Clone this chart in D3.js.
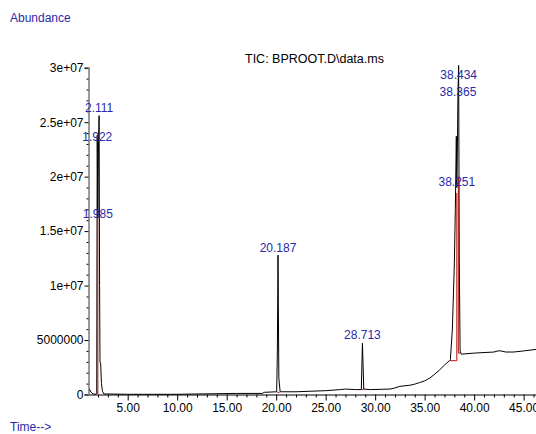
<!DOCTYPE html>
<html>
<head>
<meta charset="utf-8">
<script src="https://cdn.jsdelivr.net/npm/d3@7"></script>
<style>
  html, body { margin: 0; padding: 0; background: #fff; }
  svg { display: block; font-family: Arial, "Liberation Sans", sans-serif; }
</style>
</head>
<body>
<svg id="chart" width="536" height="434"></svg>
<script>
// ---- data ----
const traceTime = [1.09, 1.15, 1.3, 1.5, 1.8, 1.87, 1.9, 1.922, 1.95, 1.985, 2.05, 2.111, 2.16, 2.2, 2.27, 2.35, 2.45, 2.6,
  5, 10, 16, 18.6, 18.8, 20.05, 20.12, 20.187, 20.27, 20.4, 22, 23.5, 25, 26.5, 27, 28, 28.6, 28.713, 28.85, 29.5,
  31.5, 32, 32.5, 33.5, 34, 34.5, 35, 35.5, 36, 36.5, 37, 37.5, 37.6, 37.8, 38.0, 38.1, 38.2, 38.25, 38.3, 38.365, 38.434,
  38.5, 38.58, 38.7, 40, 41, 42, 42.5, 42.8, 43.2, 44, 45, 46.35];
const traceAbund = [0.45e6, 0.45e6, 0.2e6, 0.05e6, 0.02e6, 0.1e6, 1.5e7, 2.38e7, 2.0e7, 1.62e7, 2.3e7, 2.56e7, 1.0e7, 3.0e6, 2.8e6, 1.0e6, 0.3e6, 0.05e6,
  0.02e6, 0.02e6, 0.1e6, 0.1e6, 0.2e6, 0.25e6, 4.0e6, 1.28e7, 1.5e6, 0.25e6, 0.25e6, 0.3e6, 0.35e6, 0.45e6, 0.5e6, 0.45e6, 0.45e6, 4.7e6, 0.5e6, 0.45e6,
  0.5e6, 0.6e6, 0.75e6, 0.85e6, 0.95e6, 1.1e6, 1.25e6, 1.5e6, 1.85e6, 2.25e6, 2.7e6, 3.1e6, 3.2e6, 6.0e6, 1.2e7, 1.7e7, 2.37e7, 1.9e7, 2.2e7, 2.77e7, 3.02e7,
  1.2e7, 4.0e6, 3.7e6, 3.8e6, 3.85e6, 3.9e6, 4.02e6, 3.98e6, 3.9e6, 3.9e6, 4.0e6, 4.15e6];

// integration markers (red): each is a polyline of [time, abundance]
const integTimes = [[1.85, 1.985, 1.985], [20.1, 20.35], [28.6, 28.85], [37.5, 38.25, 38.25], [38.6, 38.4, 38.4]];
const integAbund = [[0.1e6, 0.1e6, 1.62e7], [0.2e6, 0.2e6], [0.45e6, 0.45e6], [3.1e6, 3.1e6, 1.85e7], [3.8e6, 3.8e6, 2.0e7]];

// peak labels
const peakLabels = ["2.111", "1.922", "1.985", "20.187", "28.713", "38.434", "38.365", "38.251"];
const peakTimes = [2.111, 1.922, 1.985, 20.187, 28.713, 38.434, 38.365, 38.251];
const peakLabelAbund = [2.59e7, 2.33e7, 1.62e7, 1.31e7, 5.1e6, 2.90e7, 2.74e7, 1.91e7];

// axis ticks
const yTickValues = [0, 5e6, 1e7, 1.5e7, 2e7, 2.5e7, 3e7];
const yTickLabels = ["0", "5000000", "1e+07", "1.5e+07", "2e+07", "2.5e+07", "3e+07"];
const xTickValues = [5, 10, 15, 20, 25, 30, 35, 40, 45];
const xTickLabels = ["5.00", "10.00", "15.00", "20.00", "25.00", "30.00", "35.00", "40.00", "45.00"];

const titleText = "TIC: BPROOT.D\\data.ms";
const yAxisTitle = "Abundance";
const xAxisTitle = "Time-->";

// ---- drawing ----
const svg = d3.select("#chart");
const x = d3.scaleLinear().domain([1.09, 46.35]).range([89, 537]);
const y = d3.scaleLinear().domain([0, 3e7]).range([394.5, 67.7]);

// y axis
const yAxis = d3.axisLeft(y).tickValues(yTickValues)
  .tickFormat((d, i) => yTickLabels[i]).tickSize(4).tickPadding(1);
const gy = svg.append("g").attr("transform", "translate(88.5,0)").call(yAxis);
gy.select(".domain").attr("stroke", "#9a9a9a").attr("stroke-width", 2);
gy.selectAll(".tick line").attr("stroke", "#000");
gy.selectAll(".tick text").attr("font-size", 12).attr("fill", "#000")
  .attr("font-family", "Arial, 'Liberation Sans', sans-serif");
// y minor ticks
const yMinor = d3.range(0, 3e7 + 1, 1e6).filter(v => v % 5e6 !== 0);
const gyMinor = svg.append("g").attr("transform", "translate(88.5,0)")
  .call(d3.axisLeft(y).tickValues(yMinor).tickSize(2).tickFormat(""));
gyMinor.select(".domain").remove();
gyMinor.selectAll(".tick line").attr("stroke", "#000");

// x axis
const xAxis = d3.axisBottom(x).tickValues(xTickValues)
  .tickFormat((d, i) => xTickLabels[i]).tickSize(6).tickPadding(3).tickSizeOuter(0);
const gx = svg.append("g").attr("transform", "translate(0,394.5)").call(xAxis);
gx.select(".domain").attr("stroke", "#000");
gx.selectAll(".tick line").attr("stroke", "#000");
gx.selectAll(".tick text").attr("font-size", 12).attr("fill", "#000")
  .attr("font-family", "Arial, 'Liberation Sans', sans-serif");
const xMinor = d3.range(2, 47, 1).filter(v => v % 5 !== 0);
const gxMinor = svg.append("g").attr("transform", "translate(0,394.5)")
  .call(d3.axisBottom(x).tickValues(xMinor).tickSize(3).tickFormat("").tickSizeOuter(0));
gxMinor.select(".domain").remove();
gxMinor.selectAll(".tick line").attr("stroke", "#000");

// trace
const trace = traceTime.map((t, i) => [t, traceAbund[i]]);
const line = d3.line().x(d => x(d[0])).y(d => y(d[1]));
svg.append("path").datum(trace)
  .attr("d", line).attr("fill", "none").attr("stroke", "#000").attr("stroke-width", 1);

// integration markers
integTimes.forEach((ts, k) => {
  const pts = ts.map((t, i) => [t, integAbund[k][i]]);
  svg.append("path").datum(pts).attr("d", line)
    .attr("fill", "none").attr("stroke", "#b01010").attr("stroke-width", 1);
});

// peak labels
svg.append("g").selectAll("text").data(peakLabels).join("text")
  .attr("x", (d, i) => x(peakTimes[i]))
  .attr("y", (d, i) => y(peakLabelAbund[i]))
  .attr("text-anchor", "middle")
  .attr("font-size", 12)
  .attr("fill", "#2a2aa8")
  .text(d => d);

// titles
svg.append("text").attr("x", 245).attr("y", 63).attr("font-size", 12.5).attr("fill", "#000").text(titleText);
svg.append("text").attr("x", 10).attr("y", 22).attr("font-size", 12).attr("fill", "#2a2aa8").text(yAxisTitle);
svg.append("text").attr("x", 10).attr("y", 431).attr("font-size", 12).attr("fill", "#2a2aa8").text(xAxisTitle);
</script>
</body>
</html>
